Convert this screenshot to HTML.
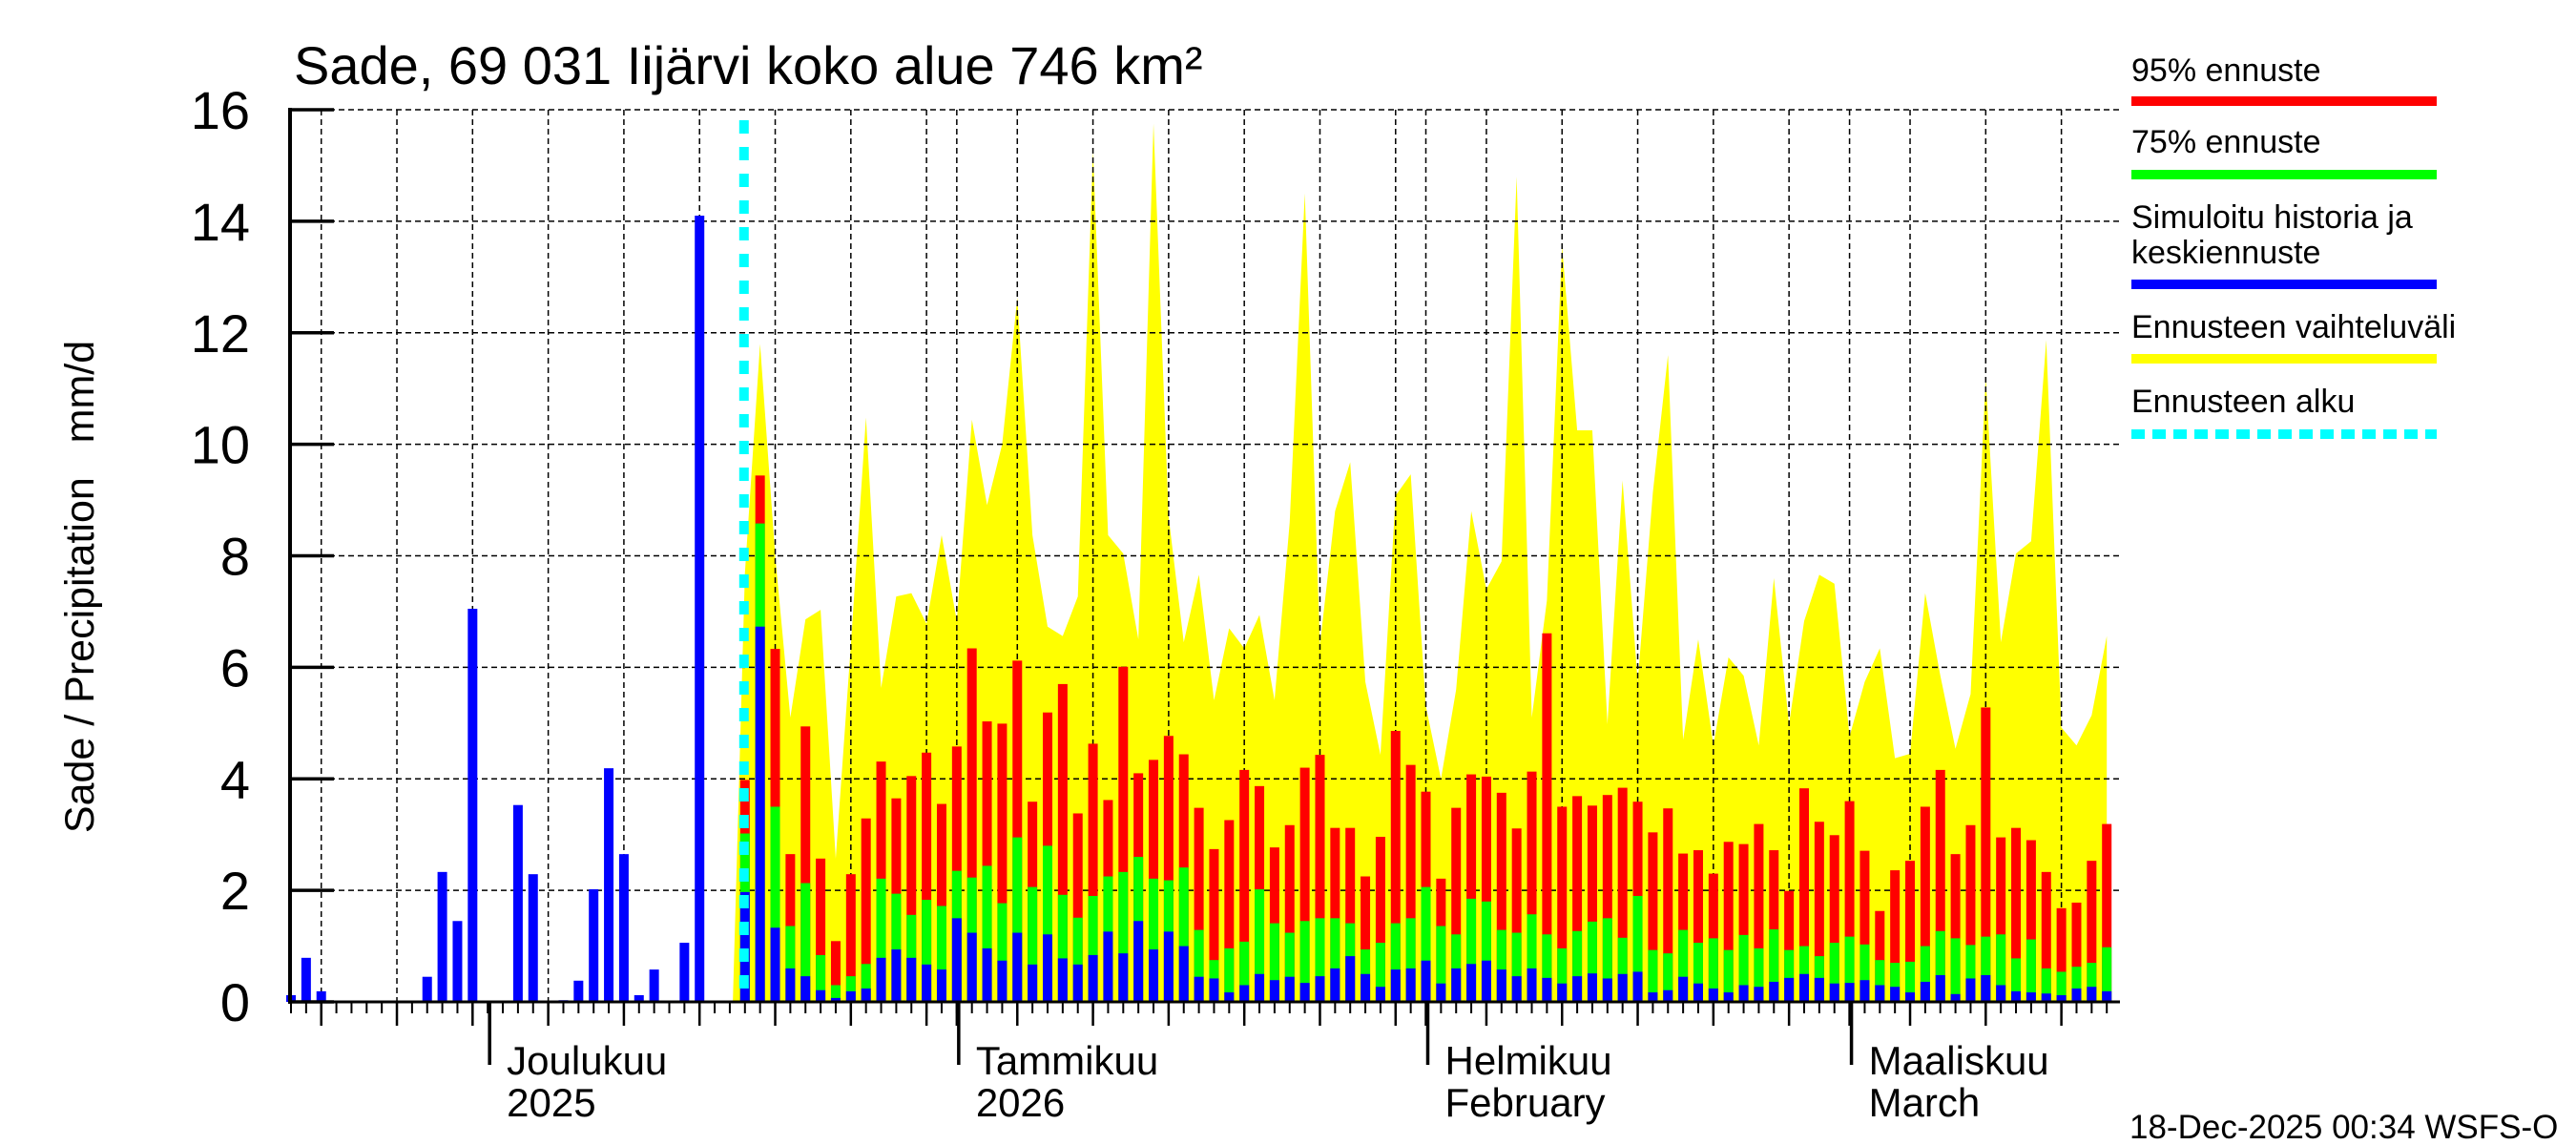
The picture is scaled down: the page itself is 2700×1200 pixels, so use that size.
<!DOCTYPE html>
<html><head><meta charset="utf-8"><style>
body{margin:0;background:#fff;}
svg{display:block;font-family:"Liberation Sans",sans-serif;}
</style></head><body>
<svg id="chart" width="2700" height="1200" viewBox="0 0 2700 1200" xmlns="http://www.w3.org/2000/svg">
<rect width="2700" height="1200" fill="#fff"/>
<g id="yellow-layer"></g><g id="grid-layer"></g><g id="bars-layer"></g><g id="axis-layer"></g>
<text x="308" y="88" font-size="56">Sade, 69 031 Iijärvi koko alue 746 km²</text>
<text transform="translate(98,615) rotate(-90)" text-anchor="middle" font-size="43" style="white-space:pre">Sade / Precipitation   mm/d</text>
<g font-size="34">
<text x="2234" y="85">95% ennuste</text>
<rect x="2234" y="101" width="320" height="10" fill="#ff0000"/>
<text x="2234" y="160">75% ennuste</text>
<rect x="2234" y="178" width="320" height="10" fill="#00ff00"/>
<text x="2234" y="239">Simuloitu historia ja</text>
<text x="2234" y="276">keskiennuste</text>
<rect x="2234" y="293" width="320" height="10" fill="#0000ff"/>
<text x="2234" y="354">Ennusteen vaihteluväli</text>
<rect x="2234" y="371" width="320" height="10" fill="#ffff00"/>
<text x="2234" y="432">Ennusteen alku</text>
<line x1="2234" y1="455" x2="2554" y2="455" stroke="#00ffff" stroke-width="10" stroke-dasharray="14 8"/>
</g>
<text x="2232" y="1193" font-size="35">18-Dec-2025 00:34 WSFS-O</text>
</svg>
<script>
const histValues=[0.12,0.79,0.19,0,0.02,0,0,0,0,0.45,2.33,1.45,7.05,0,0,3.53,2.29,0,0.03,0.38,2.02,4.19,2.65,0.12,0.58,0,1.06,14.1,0,0];
const medianValues=[1.97,6.73,1.33,0.6,0.46,0.21,0.07,0.19,0.24,0.79,0.94,0.79,0.67,0.58,1.5,1.24,0.96,0.74,1.24,0.67,1.21,0.78,0.67,0.84,1.26,0.87,1.45,0.94,1.26,1.0,0.45,0.42,0.17,0.3,0.5,0.39,0.45,0.34,0.46,0.6,0.82,0.5,0.27,0.58,0.6,0.74,0.33,0.6,0.68,0.74,0.58,0.46,0.6,0.43,0.33,0.46,0.51,0.42,0.5,0.54,0.17,0.21,0.45,0.33,0.24,0.17,0.3,0.27,0.36,0.43,0.5,0.43,0.33,0.34,0.39,0.3,0.27,0.17,0.36,0.48,0.14,0.42,0.48,0.3,0.19,0.17,0.15,0.12,0.24,0.27,0.19];
const p75Values=[3.02,8.58,3.5,1.36,2.13,0.84,0.3,0.46,0.68,2.21,1.94,1.56,1.83,1.72,2.35,2.23,2.44,1.77,2.95,2.06,2.8,1.92,1.51,1.9,2.25,2.33,2.6,2.21,2.18,2.41,1.29,0.75,0.96,1.08,2.02,1.41,1.24,1.45,1.5,1.5,1.41,0.94,1.06,1.41,1.5,2.06,1.36,1.21,1.85,1.8,1.29,1.24,1.57,1.21,0.96,1.27,1.44,1.5,1.15,1.9,0.93,0.87,1.29,1.06,1.14,0.93,1.2,0.96,1.3,0.93,1.0,0.82,1.06,1.17,1.03,0.75,0.7,0.72,1.0,1.27,1.14,1.02,1.17,1.21,0.78,1.12,0.6,0.54,0.63,0.7,0.98];
const p95Values=[3.98,9.44,6.33,2.65,4.94,2.57,1.09,2.29,3.29,4.31,3.65,4.05,4.47,3.55,4.58,6.34,5.03,4.99,6.12,3.59,5.19,5.7,3.38,4.63,3.62,6.01,4.1,4.34,4.77,4.44,3.48,2.74,3.26,4.16,3.87,2.77,3.17,4.2,4.43,3.12,3.12,2.25,2.96,4.86,4.25,3.77,2.21,3.48,4.08,4.04,3.75,3.11,4.13,6.61,3.5,3.69,3.52,3.71,3.84,3.59,3.04,3.47,2.66,2.72,2.3,2.87,2.83,3.19,2.72,1.99,3.83,3.23,2.99,3.6,2.71,1.63,2.36,2.53,3.5,4.16,2.65,3.17,5.28,2.95,3.12,2.9,2.33,1.68,1.78,2.53,3.19];
const rangeMax=[7.7,11.8,8.0,5.1,6.86,7.03,2.57,6.4,10.48,5.63,7.27,7.33,6.78,8.37,6.83,10.44,8.91,10.0,12.63,8.37,6.73,6.56,7.27,15.26,8.37,8.04,6.5,15.75,8.7,6.45,7.66,5.41,6.7,6.34,6.94,5.41,8.6,14.5,6.4,8.8,9.68,5.74,4.43,9.08,9.46,5.3,4.0,5.6,8.8,7.4,7.9,14.8,5.1,7.2,13.56,10.25,10.25,4.98,9.35,5.74,9.13,11.6,4.7,6.5,4.6,6.18,5.85,4.6,7.6,4.98,6.83,7.66,7.5,4.76,5.74,6.34,4.37,4.45,7.33,5.85,4.54,5.52,11.2,6.45,8.04,8.26,11.87,4.92,4.6,5.14,6.56];
const yTickLabels=["0","2","4","6","8","10","12","14","16"];
const monthLabels=[["Joulukuu","2025"],["Tammikuu","2026"],["Helmikuu","February"],["Maaliskuu","March"]];
const monthStartDays=[13,44,75,103];
const forecastStart=30;

const NS="http://www.w3.org/2000/svg";
const X0=305,DX=15.86,Y0=1050,YS=(1050-115)/16;
const xs=d=>X0+d*DX, ys=v=>Y0-v*YS;
function mk(parent,tag,attrs){const e=document.createElementNS(NS,tag);for(const k in attrs)e.setAttribute(k,attrs[k]);document.getElementById(parent).appendChild(e);return e;}

let pts=[[xs(29.2),ys(0)]];
rangeMax.forEach((v,i)=>pts.push([xs(forecastStart+i),ys(v)]));
pts.push([xs(forecastStart+rangeMax.length-1),ys(0)]);
const poly=mk('yellow-layer','polygon',{points:pts.map(p=>p.join(',')).join(' '),fill:'#ffff00'});



for(let i=1;i<yTickLabels.length;i++){
 const l=mk('grid-layer','line',{x1:X0,x2:2222,y1:ys(i*2),y2:ys(i*2),stroke:'#000','stroke-width':1.5,'stroke-dasharray':'6 4'});
 
 
}
let gridDays=[];
{const starts=[0,13,44,75,103];
 [[18,30],[1,31],[1,31],[1,28],[1,31]].forEach((m,mi)=>{for(let dd=m[0];dd<=m[1];dd++){const day=starts[mi]+dd-m[0];if(day>121)break;if(dd%5===0||(dd===1&&mi>1))gridDays.push(day);}});}
gridDays.forEach(d=>{
 const l=mk('grid-layer','line',{x1:xs(d),x2:xs(d),y1:115,y2:Y0,stroke:'#000','stroke-width':1.5,'stroke-dasharray':'6 4'});
 
 
 const t=mk('axis-layer','line',{x1:xs(d),x2:xs(d),y1:Y0,y2:Y0+25,stroke:'#000','stroke-width':2.5});
 
 
});

const BW=10;
histValues.forEach((v,i)=>{
 const r=mk('bars-layer','rect',{x:xs(i)-BW/2,y:ys(v),width:BW,height:Y0-ys(v),fill:'#0000ff'});
 
 
});
p95Values.forEach((v,i)=>{
 const d=forecastStart+i;
 const r=mk('bars-layer','rect',{x:xs(d)-BW/2,y:ys(v),width:BW,height:Y0-ys(v),fill:'#ff0000'});
 
 
 const g=mk('bars-layer','rect',{x:xs(d)-BW/2,y:ys(p75Values[i]),width:BW,height:Y0-ys(p75Values[i]),fill:'#00ff00'});
 
 
 const b=mk('bars-layer','rect',{x:xs(d)-BW/2,y:ys(medianValues[i]),width:BW,height:Y0-ys(medianValues[i]),fill:'#0000ff'});
 
 
});
const fl=mk('bars-layer','line',{x1:xs(forecastStart)-1,x2:xs(forecastStart)-1,y1:126,y2:Y0,stroke:'#00ffff','stroke-width':10,'stroke-dasharray':'14 14'});



const ya=mk('axis-layer','line',{x1:X0-1,x2:X0-1,y1:113,y2:Y0+2,stroke:'#000','stroke-width':4});


const xa=mk('axis-layer','line',{x1:X0-3,x2:2222,y1:Y0,y2:Y0,stroke:'#000','stroke-width':3});


yTickLabels.forEach((s,i)=>{
 const t=mk('axis-layer','line',{x1:X0,x2:X0+45,y1:ys(i*2),y2:ys(i*2),stroke:'#000','stroke-width':3.5});
 
 
 const tx=mk('axis-layer','text',{x:262,y:ys(i*2)+20,'text-anchor':'end','font-size':56});
 tx.textContent=s;
 
 
});
for(let d=0;d<=120;d++){
 const t=mk('axis-layer','line',{x1:xs(d),x2:xs(d),y1:Y0,y2:Y0+12,stroke:'#000','stroke-width':2});
 
 
}
monthStartDays.forEach((d,i)=>{
 const t=mk('axis-layer','line',{x1:xs(d)+2,x2:xs(d)+2,y1:Y0,y2:1116,stroke:'#000','stroke-width':3.5});
 
 
 const a=mk('axis-layer','text',{x:xs(d)+20,y:1126,'font-size':42});
 a.textContent=monthLabels[i][0];
 
 
 const b=mk('axis-layer','text',{x:xs(d)+20,y:1170,'font-size':42});
 b.textContent=monthLabels[i][1];
 
 
});
</script>
</body></html>
